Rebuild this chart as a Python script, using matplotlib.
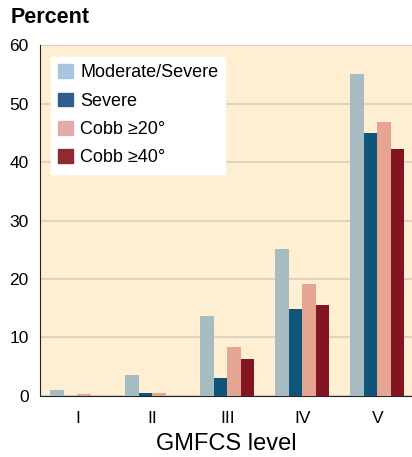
import numpy as np
import matplotlib.pyplot as plt

plt.rcParams['font.family'] = ['Liberation Sans', 'DejaVu Sans']

# Data
levels = ['I', 'II', 'III', 'IV', 'V']
series_names = ['Moderate/Severe', 'Severe', 'Cobb \u226520\u00b0', 'Cobb \u226540\u00b0']
moderate_severe = [1.0, 3.6, 13.7, 25.1, 55.0]
severe = [0.0, 0.5, 3.1, 14.8, 45.0]
cobb20 = [0.3, 0.5, 8.4, 19.2, 46.9]
cobb40 = [0.0, 0.0, 6.3, 15.5, 42.3]

bar_colors = ['#A7BCC1', '#0F5479', '#E6A592', '#831522']
legend_colors = ['#A9C4DE', '#2F5F8E', '#E3AAAB', '#8E2B32']

fig = plt.figure(figsize=(4.12, 4.57), dpi=100)
ax = fig.add_axes([0.097, 0.1335, 0.903, 0.768])
ax.set_facecolor('#FEEFD2')

x = np.arange(len(levels))
width = 0.18
all_series = [moderate_severe, severe, cobb20, cobb40]
for i, vals in enumerate(all_series):
    ax.bar(x + (i - 1.5) * width, vals, width, color=bar_colors[i],
           edgecolor='none', zorder=3)

ax.set_ylim(0, 60)
ax.set_xlim(-0.5, 4.46)
ax.set_yticks(range(0, 61, 10))
ax.set_xticks(x)
ax.set_xticklabels(levels)
ax.tick_params(length=0, labelsize=12.5)
ax.tick_params(axis='x', pad=11)
ax.tick_params(axis='y', pad=8)
ax.grid(axis='y', color='#DCD3C2', linewidth=1.5, zorder=0)

for s in ['top', 'right']:
    ax.spines[s].set_visible(False)
ax.spines['left'].set_color('#222222')
ax.spines['bottom'].set_color('#222222')

ax.set_xlabel('GMFCS level', fontsize=17, labelpad=5)
fig.text(0.025, 0.962, 'Percent', fontsize=15.5, fontweight='bold', va='center')

handles = [plt.Rectangle((0, 0), 1, 1, color=c) for c in legend_colors]
leg = ax.legend(handles, series_names, loc='upper left',
                bbox_to_anchor=(0.03, 0.966), borderaxespad=0, fontsize=13,
                handlelength=0.8, handleheight=0.8, handletextpad=0.4,
                labelspacing=0.62, borderpad=0.4, frameon=True,
                fancybox=False, framealpha=1, edgecolor='white')

plt.savefig('out.png', dpi=100)
